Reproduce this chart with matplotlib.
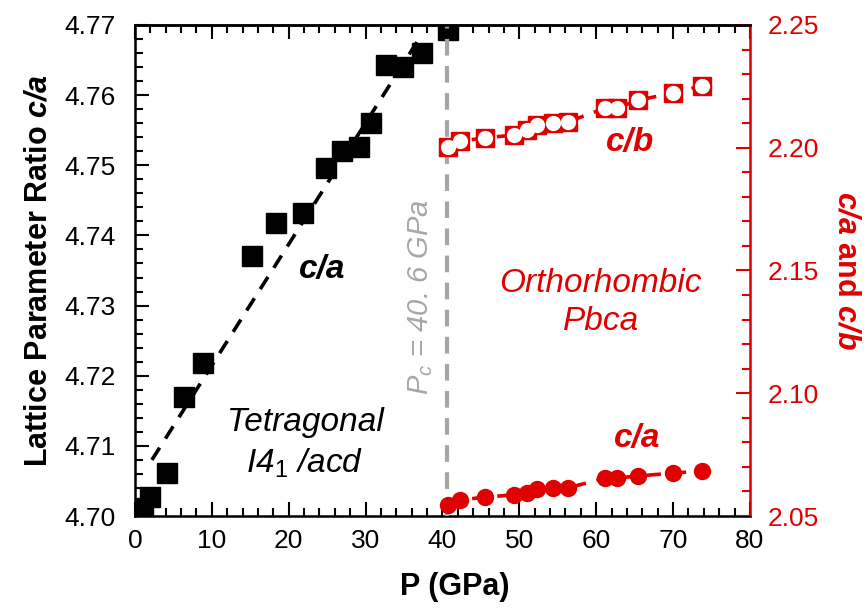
import matplotlib
matplotlib.use("Agg")
import matplotlib.pyplot as plt
from matplotlib.ticker import MultipleLocator, FormatStrFormatter

plt.rcParams['font.family'] = ['Liberation Sans', 'DejaVu Sans']
plt.rcParams['mathtext.fontset'] = 'custom'
plt.rcParams['mathtext.rm'] = 'Liberation Sans'
plt.rcParams['mathtext.it'] = 'Liberation Sans:italic'
plt.rcParams['mathtext.bf'] = 'Liberation Sans:bold'
plt.rcParams['mathtext.bfit'] = 'Liberation Sans:italic:bold'

# tetragonal c/a (left axis)
p_tet = [1.0, 2.0, 4.2, 6.4, 8.8, 15.2, 18.3, 21.8, 24.8, 26.9, 29.1, 30.7, 32.6, 34.9, 37.3, 40.7]
ca_tet = [4.7012, 4.7027, 4.7062, 4.7170, 4.7218, 4.7370, 4.7418, 4.7432, 4.7496, 4.7520,
          4.7526, 4.7560, 4.7643, 4.7640, 4.7660, 4.7693]
fit_p = [2.2, 36.7]
fit_ca = [4.7080, 4.7676]

# orthorhombic (right axis)
p_ort = [40.7, 42.3, 45.5, 49.3, 51.0, 52.3, 54.4, 56.3, 61.2, 62.7, 65.5, 70.0, 73.7]
cb_ort = [2.2003, 2.2027, 2.2040, 2.2052, 2.2072, 2.2093, 2.2101, 2.2105, 2.2162, 2.2162,
          2.2194, 2.2223, 2.2252]
ca_ort = [2.0545, 2.0565, 2.0577, 2.0586, 2.0594, 2.0610, 2.0614, 2.0614, 2.0655, 2.0655,
          2.0663, 2.0675, 2.0683]

pc = 40.6
red = '#e00000'
grey = '#a6a6a6'

fig = plt.figure(figsize=(8.67, 6.08), dpi=100)
ax = fig.add_axes([0.1557, 0.1513, 0.7093, 0.8076])
ax2 = ax.twinx()

ax.plot(fit_p, fit_ca, color='black', lw=2.6, ls=(0, (4, 3)), zorder=3)
ax.plot(p_tet, ca_tet, 's', color='black', ms=14.5, zorder=4)
ax.axvline(pc, color=grey, lw=3, ls=(0, (4, 2.5)), zorder=5)

ax2.plot(p_ort, cb_ort, color=red, lw=2.6, ls=(0, (4, 3)), zorder=2)
ax2.plot(p_ort, cb_ort, 's', color=red, ms=12.5, zorder=3)
ax2.plot(p_ort, cb_ort, 'o', color='white', mec='none', ms=11, zorder=4)
ax2.plot(p_ort, ca_ort, color=red, lw=2.6, ls=(0, (4, 3)), zorder=3)
ax2.plot(p_ort, ca_ort, 'o', color=red, ms=11.5, zorder=4)

ax.set_xlim(0, 80)
ax.set_ylim(4.70, 4.77)
ax2.set_ylim(2.05, 2.25)

ax.xaxis.set_major_locator(MultipleLocator(10))
ax.xaxis.set_minor_locator(MultipleLocator(2))
ax.yaxis.set_major_locator(MultipleLocator(0.01))
ax.yaxis.set_minor_locator(MultipleLocator(0.002))
ax2.yaxis.set_major_locator(MultipleLocator(0.05))
ax2.yaxis.set_minor_locator(MultipleLocator(0.01))
ax.yaxis.set_major_formatter(FormatStrFormatter('%.2f'))
ax2.yaxis.set_major_formatter(FormatStrFormatter('%.2f'))

ax.tick_params(which='both', direction='in', top=True, right=False, labelsize=19, width=1.5)
ax.tick_params(axis='x', pad=9)
ax.tick_params(axis='y', pad=14)
ax.tick_params(which='major', length=10)
ax.tick_params(which='minor', length=6)
ax2.tick_params(which='both', direction='in', colors=red, labelsize=19, width=1.5, pad=13)
ax2.tick_params(which='major', length=10)
ax2.tick_params(which='minor', length=6)

for s in ['left', 'bottom', 'top']:
    ax.spines[s].set_linewidth(1.8)
ax2.spines['right'].set_color(red)
ax2.spines['right'].set_linewidth(1.8)
ax2.spines['top'].set_linewidth(1.8)

ax.set_xlabel('P (GPa)', fontsize=22, fontweight='bold', labelpad=12)
ax.xaxis.set_label_coords(0.52, -0.115)
ax.set_ylabel(r'Lattice Parameter Ratio $\mathbfit{c/a}$', fontsize=22, fontweight='bold', labelpad=8)
ax2.set_ylabel(r'$\mathbfit{c/a}$ and $\mathbfit{c/b}$', fontsize=22, fontweight='bold', color=red,
               rotation=270, labelpad=30)

ax.text(24.3, 4.7351, 'c/a', fontsize=24, fontweight='bold', style='italic', ha='center', va='center')
ax.text(22.1, 4.7133, 'Tetragonal', fontsize=24, style='italic', ha='center', va='center')
ax.text(22.1, 4.7075, r'I4$_{\mathit{1}}$ /acd', fontsize=24, style='italic', ha='center', va='center')
ax.text(37.1, 4.7312, r'$P_{\mathit{c}}$ = 40. 6 GPa', fontsize=21, style='italic', color=grey,
        rotation=90, ha='center', va='center')
ax.text(64.4, 4.7532, 'c/b', fontsize=24, fontweight='bold', style='italic', color=red, ha='center', va='center')
ax.text(60.6, 4.7332, 'Orthorhombic', fontsize=24, style='italic', color=red, ha='center', va='center')
ax.text(60.6, 4.7277, 'Pbca', fontsize=24, style='italic', color=red, ha='center', va='center')
ax.text(65.3, 4.7111, 'c/a', fontsize=24, fontweight='bold', style='italic', color=red, ha='center', va='center')

fig.savefig('out.png', dpi=100)
